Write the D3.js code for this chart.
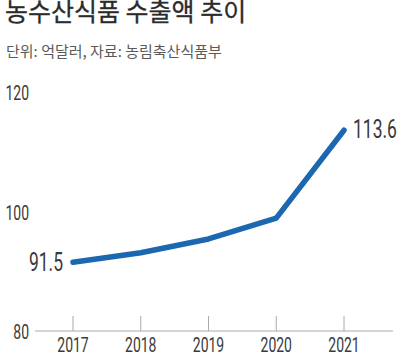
<!DOCTYPE html>
<html>
<head>
<meta charset="utf-8">
<script src="https://cdn.jsdelivr.net/npm/d3@7"></script>
<style>
  body { margin: 0; background: #fff; }
  svg { display: block; }
  .title { font-family: "Noto Sans CJK KR", sans-serif; font-size: 25px; font-weight: 400; fill: #2b2b2b; stroke: #2b2b2b; stroke-width: 0.3px; }
  .sub { font-family: "Noto Sans CJK KR", sans-serif; font-size: 15px; fill: #5a5a5a; }
  .num { font-family: Roboto, "Liberation Sans", sans-serif; font-weight: 400; fill: #3a3a3a; }
</style>
</head>
<body>
<div id="chart"></div>
<script>
"use strict";

// chart data
const years = [2017, 2018, 2019, 2020, 2021];
const exportValues = [91.5, 93.1, 95.4, 98.9, 113.6];
const yTicks = [80, 100, 120];

let width = 400, height = 353;
let narrow = 0.7; // squeeze numbers horizontally (no condensed font available)

let svg = d3.select("#chart")
  .append("svg")
  .attr("width", width)
  .attr("height", height);

// Titles
svg.append("text")
  .attr("class", "title")
  .attr("x", 5)
  .attr("y", 21)
  .text("농수산식품 수출액 추이");

svg.append("text")
  .attr("class", "sub")
  .attr("x", 6)
  .attr("y", 57)
  .text("단위: 억달러, 자료: 농림축산식품부");

// Scales
let xScale = d3.scalePoint().domain(years).range([73, 344]);
let yScale = d3.scaleLinear().domain([80, 120]).range([331, 92]);

// helper for condensed number text
function numText(sel, x, y, size, anchor, txt) {
  return sel.append("text")
    .attr("class", "num")
    .attr("transform", `translate(${x},${y}) scale(${narrow},1)`)
    .attr("dy", "0.36em")
    .attr("text-anchor", anchor)
    .style("font-size", size + "px")
    .text(txt);
}

// Bottom axis line
svg.append("line")
  .attr("x1", 35)
  .attr("x2", 393)
  .attr("y1", yScale(80))
  .attr("y2", yScale(80))
  .attr("stroke", "#aaa")
  .attr("stroke-width", 1);

// X ticks + labels
let xAxis = svg.append("g").attr("class", "xAxis");
xAxis.selectAll("line")
  .data(years)
  .enter()
  .append("line")
  .attr("x1", d => xScale(d))
  .attr("x2", d => xScale(d))
  .attr("y1", yScale(80) - 15)
  .attr("y2", yScale(80))
  .attr("stroke", "#aaa");

years.forEach(yr => numText(xAxis, xScale(yr), 345, 20, "middle", yr));

// Y labels
let yAxis = svg.append("g").attr("class", "yAxis");
yTicks.forEach(t => numText(yAxis, 29, yScale(t) + 1, 20, "end", t));

// Line
let line = d3.line()
  .x((d, i) => xScale(years[i]))
  .y(d => yScale(d));

svg.append("path")
  .datum(exportValues)
  .attr("d", line)
  .attr("fill", "none")
  .attr("stroke", "#1c68b0")
  .attr("stroke-width", 5.5)
  .attr("stroke-linecap", "round")
  .attr("stroke-linejoin", "round");

// End labels
let last = exportValues.length - 1;
numText(svg, xScale(years[0]) - 10, yScale(exportValues[0]), 25, "end", exportValues[0]);
numText(svg, xScale(years[last]) + 9, yScale(exportValues[last]) - 1, 25, "start", exportValues[last]);
</script>
</body>
</html>
